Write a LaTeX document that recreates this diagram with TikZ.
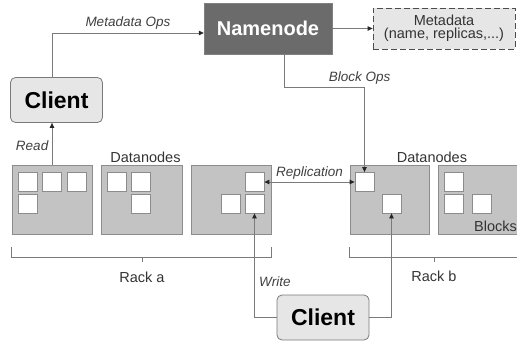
\documentclass[tikz,border=0pt]{standalone}
\usepackage{fontspec}
\setmainfont{Liberation Sans}
\usepackage{tikz}
\usetikzlibrary{arrows.meta}
\definecolor{linegray}{HTML}{7A7A7A}
\definecolor{nodegray}{HTML}{6B6B6B}
\definecolor{clientfill}{HTML}{E6E6E6}
\definecolor{dnfill}{HTML}{C3C3C3}
\definecolor{dnborder}{HTML}{8C8C8C}

\begin{document}
\begin{tikzpicture}[x=1pt, y=-1pt,
    conn/.style={linegray, line width=0.8pt},
    tip/.style={-{Triangle[length=5pt,width=4.5pt,color=black!85]}},
    client/.style={draw=linegray, fill=clientfill, rounded corners=5pt, line width=0.8pt,
        minimum width=92pt, minimum height=45pt, inner sep=0pt,
        font=\fontsize{23}{26}\selectfont\bfseries},
    datanode/.style={draw=dnborder, fill=dnfill, line width=0.8pt,
        minimum width=80pt, minimum height=69pt, inner sep=0pt},
    blk/.style={draw=dnborder, fill=white, line width=0.8pt,
        minimum size=19pt, inner sep=0pt},
    lbl/.style={font=\fontsize{14.5}{16}\selectfont, text=black!80},
    oplbl/.style={font=\fontsize{13.5}{15}\selectfont\itshape, text=black!75}]
  \useasboundingbox (0,0) rectangle (517,343);

  \node[fill=nodegray, draw=black!50, minimum width=128pt, minimum height=51pt,
        text=white, font=\fontsize{20}{24}\selectfont\bfseries] (namenode) at (268,28.5) {Namenode};
  \node[draw=black!70, dashed, dash pattern=on 6pt off 3pt, fill=clientfill, line width=0.8pt,
        minimum width=142pt, minimum height=41pt, align=center, inner sep=0pt,
        lbl] (meta) at (444,28.5) {Metadata\\[-3pt](name, replicas,...)};
  \node[client] (client1) at (56.5,100) {Client};
  \node[client] (client2) at (323,317.5) {Client};

  \node[datanode] (dn1) at (52,199.5) {};
  \node[datanode, minimum width=81pt] (dn2) at (141.5,199.5) {};
  \node[datanode] (dn3) at (231,199.5) {};
  \node[datanode, minimum width=79pt] (dn4) at (389.5,199.5) {};
  \node[datanode, minimum width=84pt] (dn5) at (480,199.5) {};

  \node[blk] (b11) at (27.5,181.5) {};
  \node[blk] (b12) at (52,181.5) {};
  \node[blk] (b13) at (76.5,181.5) {};
  \node[blk] (b14) at (27.5,203.5) {};
  \node[blk] (b21) at (116.5,181.5) {};
  \node[blk] (b22) at (141,181.5) {};
  \node[blk] (b23) at (141,203.5) {};
  \node[blk] (b31) at (254.5,182) {};
  \node[blk] (b32) at (231,203.5) {};
  \node[blk] (b33) at (254.5,203.5) {};
  \node[blk] (b41) at (364.5,182) {};
  \node[blk] (b42) at (391.5,203.5) {};
  \node[blk] (b51) at (453.5,182) {};
  \node[blk] (b52) at (453.5,203.5) {};
  \node[blk] (b53) at (482,203.5) {};

  \node[lbl] (dnlabela) at (145.5,157) {Datanodes};
  \node[lbl] (dnlabelb) at (432,157) {Datanodes};
  \node[lbl, anchor=west, inner sep=0pt] (blocks) at (474,226) {Blocks};
  \node[lbl] (racka) at (142,277) {Rack a};
  \node[lbl] (rackb) at (434,276) {Rack b};

  \draw[conn, tip] (dn1.north |- client1.north) |- ([yshift=-4.5pt]namenode.west)
      node[oplbl, pos=0.75, above] {Metadata Ops};
  \draw[conn, tip] (namenode.east) -- (meta.west);
  \draw[conn, tip] ([xshift=16pt]namenode.south) -- ++(0,33) -| (b41.north)
      node[oplbl, pos=0.47, above=-1pt] {Block Ops};
  \draw[conn, tip] (dn1.north) -- (dn1.north |- client1.south)
      node[oplbl, pos=0.45, left] {Read};
  \draw[conn, {Triangle[length=5pt,width=4.5pt,color=black!85]}-{Triangle[length=5pt,width=4.5pt,color=black!85]}]
      (b31.east) -- (b41.west) node[oplbl, midway, above=-1pt] {Replication};
  \draw[conn, tip] (client2.west) -| (b33.south)
      node[oplbl, pos=0.67, right=1pt] {Write};
  \draw[conn, tip] (client2.east) -| (b42.south);

  \draw[conn] ([yshift=-13pt]dn1.south west) -- ++(0,10) -| ([yshift=-13pt]dn3.south east);
  \draw[conn] (racka.north |- 0,257) -- ++(0,5);
  \draw[conn] ([yshift=-13pt]dn4.south west) -- ++(0,10) -- ++(175,0);
  \draw[conn] (rackb.north |- 0,257) -- ++(0,5);
\end{tikzpicture}
\end{document}
